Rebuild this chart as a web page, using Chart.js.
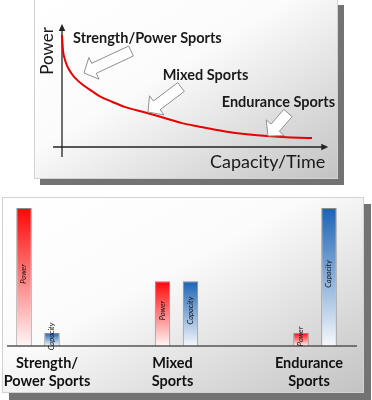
<!DOCTYPE html>
<html><head><meta charset="utf-8">
<script src="https://cdn.jsdelivr.net/npm/chart.js@4.4.1/dist/chart.umd.min.js"></script>
<style>
html,body{margin:0;padding:0;background:#fff;width:372px;height:400px;overflow:hidden;}
.panel{position:absolute;box-sizing:border-box;border:1px solid #d2d2d2;background:linear-gradient(to bottom right,#ffffff 0%,#fbfbfb 42%,#c3c3c3 100%);box-shadow:6px 6px 0 #737373;}
#p1{left:34px;top:-1px;width:304px;height:180px;}
#p2{left:2px;top:197px;width:362px;height:196px;box-shadow:7px 7px 0 #737373;}
canvas{position:absolute;left:0;}
#c1{top:0px;}
#c2{top:190px;}
</style></head><body>
<div class="panel" id="p1"></div><div class="panel" id="p2"></div>
<canvas id="c1" width="372" height="190"></canvas>
<canvas id="c2" width="372" height="210"></canvas>
<script>
// ---- top chart data (power vs capacity/time curve) ----
const capacity = [0, 0.04, 0.1, 0.2, 0.36, 0.52, 0.84, 1.2, 1.5, 2.0, 2.5, 3.4, 4.1, 4.8, 5.5, 6.2, 6.8, 7.5, 8.2, 8.8, 9.5, 10];
const power    = [11.0, 9.5, 8.75, 8.0, 7.3, 6.8, 6.1, 5.5, 5.0, 4.45, 3.95, 3.35, 2.85, 2.35, 2.0, 1.67, 1.43, 1.23, 1.08, 0.98, 0.9, 0.88];
const axisTitles = ['Capacity/Time', 'Power'];
const sportLabels = ['Strength/Power Sports', 'Mixed Sports', 'Endurance Sports'];
const labelAnchors = [[0.44, 10.23], [4.03, 6.56], [6.39, 3.9]];
const arrowTails = [[2.76, 9.44], [4.76, 5.9], [9.04, 3.34]];
const arrowTips  = [[0.88, 7.28], [3.44, 3.44], [8.24, 1.08]];

// ---- bottom chart data ----
const categories = [['Strength/', 'Power Sports'], ['Mixed', 'Sports'], ['Endurance', 'Sports']];
const seriesNames = ['Power', 'Capacity'];
const powerValues = [100, 47, 9.5];
const capacityValues = [9.5, 47, 100];

Chart.defaults.font.family = 'Lato, "Open Sans", sans-serif';

function arrowHead(ctx, x, y, dx, dy, len, half) {
  ctx.beginPath();
  ctx.moveTo(x, y);
  ctx.lineTo(x - dx * len - dy * half, y - dy * len + dx * half);
  ctx.lineTo(x - dx * len + dy * half, y - dy * len - dx * half);
  ctx.closePath();
  ctx.fill();
}
function blockArrow(ctx, t0, t1, sw, hw, hl) {
  const dx = t1[0] - t0[0], dy = t1[1] - t0[1], L = Math.hypot(dx, dy);
  const ux = dx / L, uy = dy / L, nx = -uy, ny = ux;
  const bx = t1[0] - ux * hl, by = t1[1] - uy * hl;
  const pts = [
    [t0[0] + nx * sw / 2, t0[1] + ny * sw / 2],
    [bx + nx * sw / 2, by + ny * sw / 2],
    [bx + nx * hw / 2, by + ny * hw / 2],
    [t1[0], t1[1]],
    [bx - nx * hw / 2, by - ny * hw / 2],
    [bx - nx * sw / 2, by - ny * sw / 2],
    [t0[0] - nx * sw / 2, t0[1] - ny * sw / 2]
  ];
  ctx.beginPath();
  pts.forEach((p, i) => i ? ctx.lineTo(p[0], p[1]) : ctx.moveTo(p[0], p[1]));
  ctx.closePath();
  ctx.fillStyle = '#ffffff';
  ctx.fill();
  ctx.strokeStyle = '#8f8f8f';
  ctx.lineWidth = 1;
  ctx.stroke();
}

const curveDecor = {
  id: 'curveDecor',
  beforeDatasetsDraw(chart) {
    const ctx = chart.ctx, xs = chart.scales.x, ys = chart.scales.y;
    const x0 = xs.getPixelForValue(0), y0 = ys.getPixelForValue(0);
    ctx.save();
    ctx.strokeStyle = '#222'; ctx.fillStyle = '#222'; ctx.lineWidth = 1.3;
    // y axis
    const yTop = ys.getPixelForValue(12) - 1;
    ctx.beginPath(); ctx.moveTo(x0, y0 + 10); ctx.lineTo(x0, yTop + 5); ctx.stroke();
    arrowHead(ctx, x0, yTop, 0, -1, 7, 3.3);
    // x axis
    const xEnd = xs.getPixelForValue(10.65);
    ctx.beginPath(); ctx.moveTo(x0 - 9, y0); ctx.lineTo(xEnd - 5, y0); ctx.stroke();
    arrowHead(ctx, xEnd, y0, 1, 0, 7, 3.3);
    // axis titles
    ctx.fillStyle = '#1a1a1a';
    ctx.font = '18px Lato';
    ctx.textAlign = 'right'; ctx.textBaseline = 'alphabetic';
    ctx.fillText(axisTitles[0], xEnd - 3, y0 + 20.7);
    ctx.save();
    ctx.translate(x0 - 8.7, yTop + 3);
    ctx.rotate(-Math.PI / 2);
    ctx.font = '17px Lato';
    ctx.textAlign = 'right';
    ctx.fillText(axisTitles[1], 0, 0);
    ctx.restore();
    ctx.restore();
  },
  afterDatasetsDraw(chart) {
    const ctx = chart.ctx, xs = chart.scales.x, ys = chart.scales.y;
    const px = p => [xs.getPixelForValue(p[0]), ys.getPixelForValue(p[1])];
    ctx.save();
    arrowTips.forEach((tip, i) => blockArrow(ctx, px(arrowTails[i]), px(tip), 11, 24, 11));
    ctx.fillStyle = '#1a1a1a';
    ctx.font = 'bold 14.5px Lato';
    ctx.textAlign = 'left'; ctx.textBaseline = 'alphabetic';
    sportLabels.forEach((t, i) => { const p = px(labelAnchors[i]); ctx.fillText(t, p[0], p[1]); });
    ctx.restore();
  }
};

new Chart(document.getElementById('c1'), {
  type: 'line',
  data: {
    datasets: [{
      label: axisTitles[1],
      data: capacity.map((c, i) => ({ x: c, y: power[i] })),
      borderColor: '#e60000',
      borderWidth: 2,
      pointRadius: 0,
      cubicInterpolationMode: 'monotone',
      clip: false
    }]
  },
  options: {
    responsive: false, animation: false, devicePixelRatio: 1,
    layout: { padding: { left: 62, right: 60, top: 25, bottom: 43 } },
    scales: {
      x: { type: 'linear', min: 0, max: 10, display: false },
      y: { min: 0, max: 12, display: false }
    },
    plugins: { legend: { display: false }, tooltip: { enabled: false } }
  },
  plugins: [curveDecor]
});

function barGradient(top, bottom) {
  return (c) => {
    const chart = c.chart;
    if (!chart.chartArea || !c.parsed) return top;
    const ys = chart.scales.y;
    const g = chart.ctx.createLinearGradient(0, ys.getPixelForValue(c.parsed.y), 0, ys.getPixelForValue(0));
    g.addColorStop(0, top);
    g.addColorStop(1, bottom);
    return g;
  };
}

const barDecor = {
  id: 'barDecor',
  afterDatasetsDraw(chart) {
    const ctx = chart.ctx, xs = chart.scales.x, ys = chart.scales.y;
    const y0 = ys.getPixelForValue(0);
    ctx.save();
    // baseline
    ctx.strokeStyle = '#555'; ctx.lineWidth = 1.5;
    ctx.beginPath(); ctx.moveTo(xs.left - 31, y0); ctx.lineTo(xs.right + 42, y0); ctx.stroke();
    // series names inside bars
    ctx.fillStyle = '#111';
    ctx.font = 'italic 7.5px Lato';
    ctx.textAlign = 'center'; ctx.textBaseline = 'middle';
    chart.data.datasets.forEach((ds, di) => {
      chart.getDatasetMeta(di).data.forEach(bar => {
        ctx.save();
        ctx.translate(bar.x, (bar.y + bar.base) / 2 - 3);
        ctx.rotate(-Math.PI / 2);
        ctx.fillText(ds.label, 0, 0);
        ctx.restore();
      });
    });
    // category labels
    const shift = chart.options.plugins.barDecor.labelShift;
    ctx.fillStyle = '#111';
    ctx.font = 'bold 14.5px Lato';
    ctx.textBaseline = 'alphabetic';
    chart.data.labels.forEach((lines, i) => {
      const x = xs.getPixelForValue(i) + shift[i];
      lines.forEach((t, j) => ctx.fillText(t, x, y0 + 21.5 + j * 18.8));
    });
    ctx.restore();
  }
};

new Chart(document.getElementById('c2'), {
  type: 'bar',
  data: {
    labels: categories,
    datasets: [
      { label: seriesNames[0], data: powerValues, backgroundColor: barGradient('#ff0606', '#fff6f6') },
      { label: seriesNames[1], data: capacityValues, backgroundColor: barGradient('#1b63b3', '#f6f9fd') }
    ]
  },
  options: {
    responsive: false, animation: false, devicePixelRatio: 1,
    layout: { padding: { left: 38, right: 57, top: 18, bottom: 54 } },
    datasets: { bar: { categoryPercentage: 0.404, barPercentage: 0.553, borderColor: '#8d8d8d', borderWidth: 1, borderSkipped: 'bottom', clip: false } },
    scales: {
      x: { display: false, offset: false },
      y: { display: false, min: 0, max: 100 }
    },
    plugins: { legend: { display: false }, tooltip: { enabled: false }, barDecor: { labelShift: [9, -4, -6] } }
  },
  plugins: [barDecor]
});
</script>
</body></html>
